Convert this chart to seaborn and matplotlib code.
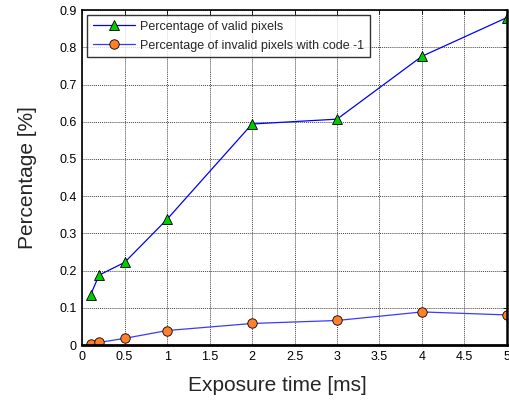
import matplotlib
matplotlib.use("Agg")
import matplotlib.pyplot as plt
import seaborn as sns
import pandas as pd

exposure = [0.1, 0.2, 0.5, 1, 2, 3, 4, 5]
valid = [0.135, 0.188, 0.222, 0.338, 0.594, 0.607, 0.776, 0.880]
invalid = [0.002, 0.007, 0.018, 0.039, 0.058, 0.066, 0.089, 0.081]
labels = ["Percentage of valid pixels", "Percentage of invalid pixels with code -1"]

sns.set_style("white")
plt.rcParams['font.family'] = ['Liberation Sans', 'DejaVu Sans']

fig = plt.figure(figsize=(5.1, 4.05), dpi=100)
ax = fig.add_axes([0.161, 0.148, 0.833, 0.827])

df = pd.DataFrame({"x": exposure, "valid": valid, "invalid": invalid})
sns.lineplot(data=df, x="x", y="valid", ax=ax, color="#0000ff", lw=0.9,
             marker="^", markersize=7.5, markerfacecolor="#00cc00",
             markeredgecolor="black", markeredgewidth=0.6, label=labels[0])
sns.lineplot(data=df, x="x", y="invalid", ax=ax, color="#3a3aff", lw=0.9,
             marker="o", markersize=6.8, markerfacecolor="#ff7f2a",
             markeredgecolor="black", markeredgewidth=0.6, label=labels[1])

ax.set_xlim(0, 5)
ax.set_ylim(0, 0.9)
ax.set_xticks([0, 0.5, 1, 1.5, 2, 2.5, 3, 3.5, 4, 4.5, 5])
ax.set_xticklabels(["0", "0.5", "1", "1.5", "2", "2.5", "3", "3.5", "4", "4.5", "5"])
ax.set_yticks([0, 0.1, 0.2, 0.3, 0.4, 0.5, 0.6, 0.7, 0.8, 0.9])
ax.set_yticklabels(["0", "0.1", "0.2", "0.3", "0.4", "0.5", "0.6", "0.7", "0.8", "0.9"])
ax.grid(True, color="#444444", linestyle=(0, (1, 1)), linewidth=0.7)
ax.tick_params(direction="in", top=True, right=True, labelsize=9, length=3, width=0.6, colors="black", pad=4)
for s in ax.spines.values():
    s.set_color("black")
    s.set_linewidth(1.2)
ax.spines["bottom"].set_linewidth(2.0)
ax.spines["right"].set_linewidth(1.8)
ax.set_xlabel("Exposure time [ms]", fontsize=15, labelpad=10)
ax.xaxis.set_label_coords(0.459, -0.092)
ax.set_ylabel("Percentage [%]", fontsize=15, labelpad=16)

leg = ax.legend(loc="upper left", fontsize=9, frameon=True, fancybox=False,
                edgecolor="black", borderpad=0.45, handlelength=3.4,
                handletextpad=0.4, labelspacing=0.55,
                bbox_to_anchor=(0.0, 1.0), borderaxespad=0.4)
leg.get_frame().set_linewidth(1.0)

fig.savefig("out.png", dpi=100)
